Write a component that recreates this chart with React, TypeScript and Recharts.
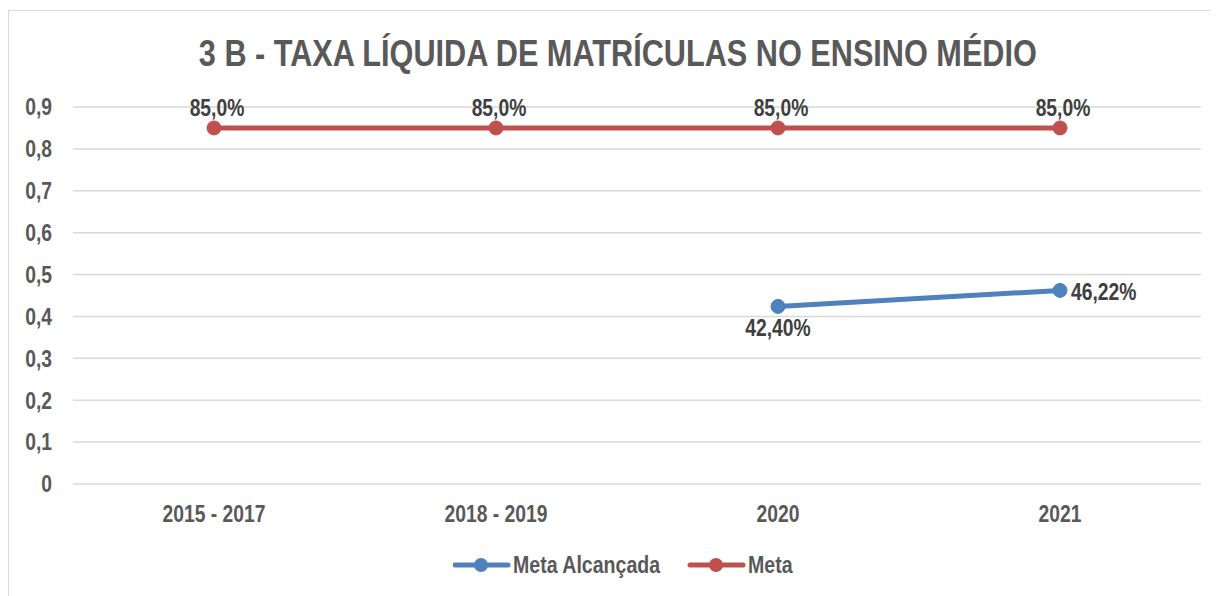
import React from "react";
import { LineChart, Line, XAxis, YAxis, CartesianGrid, Legend } from "recharts";

// Dados
const CATEGORIES: string[] = ["2015 - 2017", "2018 - 2019", "2020", "2021"];
const META_ALCANCADA: (number | null)[] = [null, null, 0.424, 0.4622];
const META: number[] = [0.85, 0.85, 0.85, 0.85];
const Y_TICKS: number[] = [0, 0.1, 0.2, 0.3, 0.4, 0.5, 0.6, 0.7, 0.8, 0.9];

// Liberation Sans comprimida horizontalmente ~ Arial Narrow
const FONT = '"Liberation Sans", Arial, sans-serif';
const NARROW = 0.84;
const SIZE = 23;
const BLUE = "#4F81BD";
const RED = "#C0504D";
const GRAY = "#595959";
const DARK = "#404040";

const SERIES = [
  { key: "alcancada", name: "Meta Alcançada", color: BLUE },
  { key: "meta", name: "Meta", color: RED },
];

const data = CATEGORIES.map((name, i) => ({
  name,
  alcancada: META_ALCANCADA[i],
  meta: META[i],
}));

const fmtTick = (v: number) => (v === 0 ? "0" : v.toFixed(1).replace(".", ","));

const NarrowText = ({ x, y, anchor, fill, size = SIZE, dy, children }: {
  x: number; y: number; anchor: "start" | "middle" | "end"; fill: string; size?: number; dy?: string;
  children: React.ReactNode;
}) => (
  <g transform={`translate(${x},${y})`}>
    <text transform={`scale(${NARROW},1)`} textAnchor={anchor} dy={dy} fill={fill}
      fontFamily={FONT} fontWeight="bold" fontSize={size}>
      {children}
    </text>
  </g>
);

type TickProps = { x?: number; y?: number; payload?: { value: string | number } };

const XTick = ({ x = 0, y = 0, payload }: TickProps) => (
  <NarrowText x={x} y={y} anchor="middle" fill={GRAY} dy="0.71em">
    {String(payload?.value)}
  </NarrowText>
);

const YTick = ({ x = 0, y = 0, payload }: TickProps) => (
  <NarrowText x={x} y={y} anchor="end" fill={GRAY} dy="0.36em">
    {fmtTick(Number(payload?.value))}
  </NarrowText>
);

type LabelProps = { x?: number; y?: number; value?: number | null; index?: number };

const MetaLabel = ({ x = 0, y = 0, value }: LabelProps) => {
  if (value == null) return null;
  return (
    <NarrowText x={x + 3} y={y - 20} anchor="middle" fill={DARK} dy="0.36em">
      {(value * 100).toFixed(1).replace(".", ",")}%
    </NarrowText>
  );
};

const AlcancadaLabel = ({ x = 0, y = 0, value, index }: LabelProps) => {
  if (value == null) return null;
  const txt = (value * 100).toFixed(2).replace(".", ",") + "%";
  // ultimo ponto: rotulo à direita; demais: abaixo
  if (index === CATEGORIES.length - 1) {
    return (
      <NarrowText x={x + 11} y={y + 1} anchor="start" fill={DARK} dy="0.36em">
        {txt}
      </NarrowText>
    );
  }
  return (
    <NarrowText x={x} y={y + 21} anchor="middle" fill={DARK} dy="0.36em">
      {txt}
    </NarrowText>
  );
};

const CustomLegend = () => (
  <div style={{ height: 30, display: "flex", justifyContent: "center", paddingLeft: 37 }}>
    <svg width={342} height={30}>
      {SERIES.map((s, i) => {
        const ox = i === 0 ? 0 : 235;
        return (
          <g key={s.key}>
            <line x1={2} y1={15} x2={55} y2={15} transform={`translate(${ox},0)`} stroke={s.color}
              strokeWidth={5} strokeLinecap="round" />
            <circle cx={ox + 28} cy={15} r={7} fill={s.color} />
            <NarrowText x={ox + 60} y={15} anchor="start" fill={GRAY} size={23.3} dy="0.36em">
              {s.name}
            </NarrowText>
          </g>
        );
      })}
    </svg>
  </div>
);

export default function App() {
  return (
    <div style={{ position: "relative", marginTop: 2, width: 1220, height: 600, border: "1px solid #d9d9d9", background: "#fff" }}>
      <div style={{ position: "absolute", left: 0, width: 1218, top: 22, textAlign: "center" }}>
        <span style={{ display: "inline-block", fontFamily: FONT, fontWeight: "bold", fontSize: 36.5, color: GRAY,
          transform: `scaleX(${NARROW})`, transformOrigin: "center", whiteSpace: "nowrap" }}>
          3 B - TAXA LÍQUIDA DE MATRÍCULAS NO ENSINO MÉDIO
        </span>
      </div>
      <LineChart width={1209} height={586} data={data} margin={{ top: 96, right: 17, left: 0, bottom: 17 }}>
        <CartesianGrid vertical={false} stroke="#d9d9d9" strokeWidth={1.5} />
        <XAxis dataKey="name" axisLine={false} tickLine={false} height={66} tickMargin={16}
          padding={{ left: 141, right: 141 }} interval={0} tick={<XTick />} />
        <YAxis domain={[0, 0.9]} ticks={Y_TICKS} axisLine={false} tickLine={false}
          width={64} tickMargin={15} interval={0} tick={<YTick />} />
        {SERIES.map((s) => (
          <Line key={s.key} dataKey={s.key} name={s.name} stroke={s.color} strokeWidth={5}
            dot={{ r: 7, fill: s.color, stroke: s.color, strokeWidth: 1 }} activeDot={false}
            label={s.key === "meta" ? <MetaLabel /> : <AlcancadaLabel />} isAnimationActive={false} />
        ))}
        <Legend content={<CustomLegend />} verticalAlign="bottom" align="center" />
      </LineChart>
    </div>
  );
}
